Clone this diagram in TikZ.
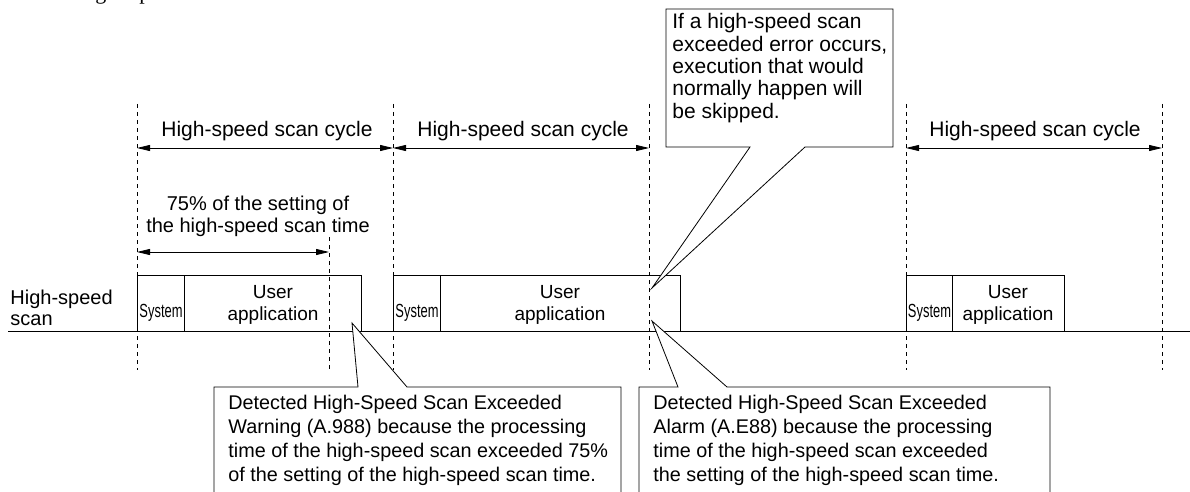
\documentclass[tikz,border=0pt]{standalone}
\usepackage{fontspec}
\usepackage{graphicx}
\setmainfont{Liberation Sans}
\newfontfamily\fragserif{Liberation Serif}
\usetikzlibrary{arrows.meta}
\newcommand\mlines[2]{\begin{tabular}[t]{@{}#1@{}}#2\end{tabular}}
\begin{document}
\begin{tikzpicture}[x=1pt,y=-1pt,line width=0.8pt,
  guide/.style={line width=0.6pt, dash pattern=on 4pt off 4pt},
  dimline/.style={line width=0.8pt, {Triangle[length=13pt,width=6pt]}-{Triangle[length=13pt,width=6pt]}},
  cyc/.style={inner sep=0pt, anchor=base, font=\fontsize{21}{21}\selectfont},
  txt/.style={inner sep=0pt, anchor=base, font=\fontsize{20}{22.3}\selectfont},
  usr/.style={inner sep=0pt, anchor=base, font=\fontsize{19}{22.5}\selectfont},
  sys/.style={inner sep=0pt, anchor=base, font=\fontsize{19}{19}\selectfont},
  toptxt/.style={inner sep=0pt, anchor=base west, font=\fontsize{21}{22.3}\selectfont},
  lowtxt/.style={inner sep=0pt, anchor=base west, font=\fontsize{19.8}{24}\selectfont},
  boxline/.style={draw, line width=0.8pt},
  callout/.style={draw, fill=white, line width=0.8pt, line join=miter}]
\useasboundingbox (0,0) rectangle (1190,492);

% fragment of a cut-off line at the top
\node[inner sep=0pt, anchor=base west, font=\fragserif\fontsize{22}{22}\selectfont] (frag) at (95,0) {g\hspace{33pt}p};

% guide coordinates
\foreach \n/\x in {1/137,2/393,3/649,4/906,5/1162}{
  \coordinate (gt\n) at (\x,104);
  \coordinate (gb\n) at (\x,370);
  \draw[guide] (gt\n) -- (gb\n);
}
\coordinate (q75t) at (329,237);
\coordinate (q75b) at (329,370);
\draw[guide] (q75t) -- (q75b);

% cycle arrows
\coordinate (a1) at (137,148);
\coordinate (a2) at (393,148);
\coordinate (a3) at (649,148);
\coordinate (a4) at (906,148);
\coordinate (a5) at (1162,148);
\draw[dimline] (a1) -- (a2);
\draw[dimline] (a2) -- (a3);
\draw[dimline] (a4) -- (a5);
\node[cyc] (cyc1) at (267,136) {High-speed scan cycle};
\node[cyc] (cyc2) at (523,136) {High-speed scan cycle};
\node[cyc] (cyc3) at (1035,136) {High-speed scan cycle};

% 75% arrow
\coordinate (p1) at (137,252);
\coordinate (p2) at (329,252);
\draw[dimline] (p1) -- (p2);
\node[txt] (pct) at (258,210) {\mlines{c}{75\% of the setting of\\the high-speed scan time}};

% time axis
\coordinate (ax0) at (8,331);
\coordinate (ax1) at (1190,331);
\draw (ax0) -- (ax1);
\node[inner sep=0pt, anchor=base west, font=\fontsize{20}{21}\selectfont] (hsl) at (10,304) {\mlines{l}{High-speed\\scan}};

% scan boxes
\draw[boxline] (137,275) rectangle (184,331);
\draw[boxline] (184,275) rectangle (361,331);
\draw[boxline] (393,275) rectangle (440,331);
\draw[boxline] (440,275) rectangle (680,331);
\draw[boxline] (906,275) rectangle (952,331);
\draw[boxline] (952,275) rectangle (1064,331);

\node[sys] (s1) at (161,317) {\scalebox{0.68}[1]{System}};
\node[sys] (s2) at (417,317) {\scalebox{0.68}[1]{System}};
\node[sys] (s3) at (929.5,317) {\scalebox{0.68}[1]{System}};
\node[usr] (u1) at (273,298) {\mlines{c}{User\\application}};
\node[usr] (u2) at (560,298) {\mlines{c}{User\\application}};
\node[usr] (u3) at (1008,298) {\mlines{c}{User\\application}};

% top callout
\coordinate (tipT) at (652,288);
\draw[callout] (666,9) -- (893,9) -- (893,147) -- (805,147) -- (tipT) -- (750,147) -- (666,147) -- cycle;
\node[toptxt] (ctop) at (672,29) {\mlines{l}{If a high-speed scan\\exceeded error occurs,\\execution that would\\normally happen will\\be skipped.}};

% lower callouts
\coordinate (tipW) at (352,323);
\coordinate (tipA) at (652,321);
\draw[callout] (214,495) -- (214,387) -- (358,387) -- (tipW) -- (407,387) -- (621,387) -- (621,495);
\draw[callout] (639,495) -- (639,387) -- (678,387) -- (tipA) -- (727,387) -- (1050,387) -- (1050,495);
\node[lowtxt] (cw) at (228,409) {\mlines{l}{Detected High-Speed Scan Exceeded\\Warning (A.988) because the processing\\time of the high-speed scan exceeded 75\%\\of the setting of the high-speed scan time.}};
\node[lowtxt] (ca) at (653,409) {\mlines{l}{Detected High-Speed Scan Exceeded\\Alarm (A.E88) because the processing\\time of the high-speed scan exceeded\\the setting of the high-speed scan time.}};
\end{tikzpicture}
\end{document}
